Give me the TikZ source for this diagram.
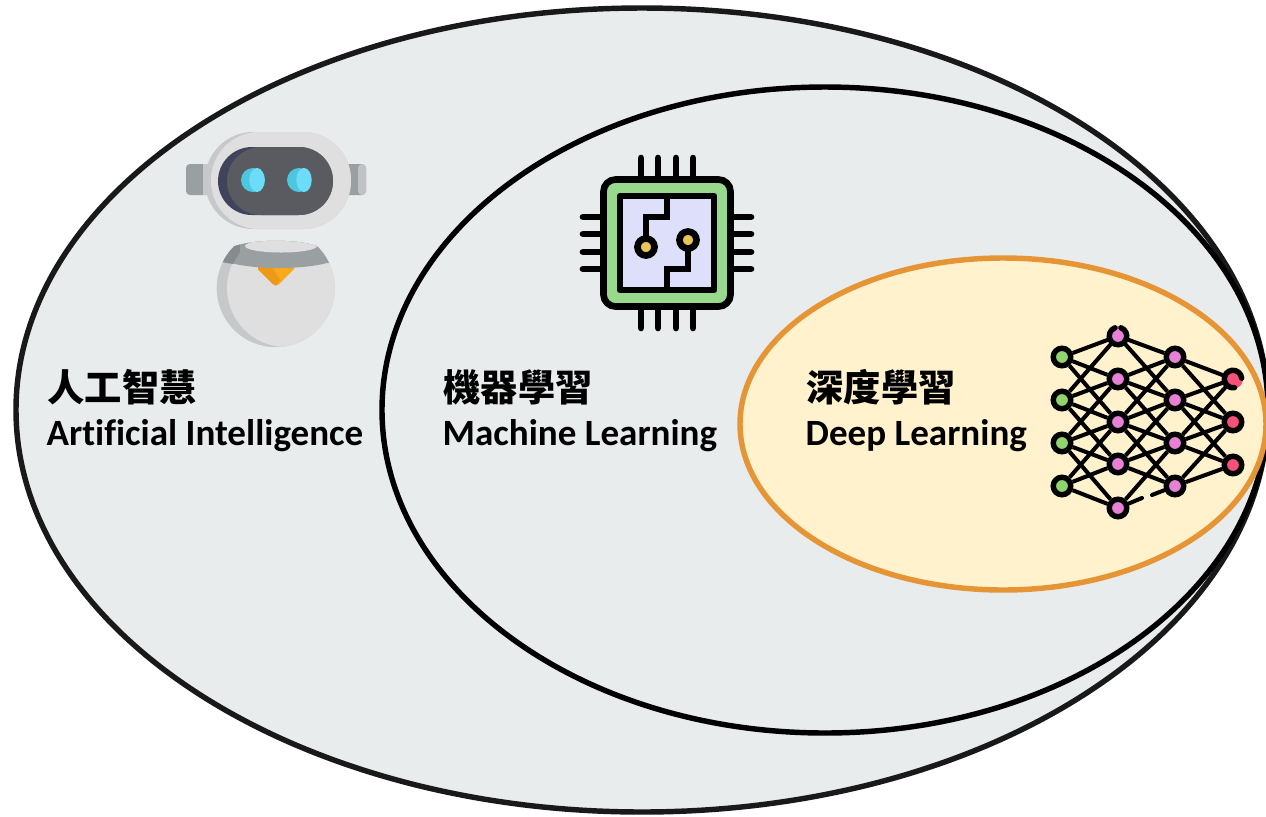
\documentclass[tikz,border=0pt]{standalone}
\usepackage{fontspec}
\setmainfont{Carlito}[Ligatures=NoCommon]
\newfontfamily\cjk{Noto Sans CJK TC}
\definecolor{setgray}{HTML}{E8ECED}
\definecolor{setyellow}{HTML}{FFF2CC}
\definecolor{setorange}{HTML}{E69536}
\definecolor{shell}{HTML}{DFDFDF}
\definecolor{shelldark}{HTML}{C6C8C9}
\definecolor{collar}{HTML}{9A9FA1}
\definecolor{collardark}{HTML}{878B8D}
\definecolor{screen}{HTML}{5A5B61}
\definecolor{screendark}{HTML}{41435D}
\definecolor{eye}{HTML}{6CDCF8}
\definecolor{eyedark}{HTML}{4FC6DF}
\definecolor{tie}{HTML}{F9A91C}
\definecolor{tiedark}{HTML}{EE9918}
\definecolor{chipgreen}{HTML}{98D98E}
\definecolor{chipblue}{HTML}{DEDFFB}
\definecolor{chipgold}{HTML}{E9C558}
\definecolor{ingreen}{HTML}{8FD46F}
\definecolor{hidpink}{HTML}{E681D6}
\definecolor{outred}{HTML}{F4527A}
\tikzset{
  setline/.style={line width=1.55pt},
  title/.style={anchor=west, inner sep=0pt, font=\cjk\bfseries\fontsize{10.6}{12}\selectfont},
  subtitle/.style={anchor=west, inner sep=0pt, font=\bfseries\fontsize{10.55}{12}\selectfont},
  chipline/.style={line width=1.9pt, line cap=round},
  unit/.style={circle, draw=black, line width=1.55pt, minimum size=.175cm, inner sep=0pt},
  bareunit/.style={circle, minimum size=.15cm, inner sep=0pt},
  link/.style={line width=1.15pt, black},
}
\begin{document}
\begin{tikzpicture}[]
\useasboundingbox (0, 0) rectangle (12.66, -8.16);
% the three sets
\draw[setline, fill=setgray, draw=black!90] (6.42, -4.10) ellipse (6.26 and 4.02);
\draw[setline, fill=setgray, draw=black] (8.25, -4.10) ellipse (4.43 and 3.23);
\draw[setline, fill=setyellow, draw=setorange] (10.03, -4.24) ellipse (2.63 and 1.66);
% labels
\node[title] (aitext) at (.47, -3.87) {人工智慧};
\node[subtitle] (aisub) at (.46, -4.36) {Artificial Intelligence};
\node[title] (mltext) at (4.43, -3.87) {機器學習};
\node[subtitle] (mlsub) at (4.42, -4.36) {Machine Learning};
\node[title] (dltext) at (8.06, -3.87) {深度學習};
\node[subtitle] (dlsub) at (8.05, -4.36) {Deep Learning};
% robot head
\fill[collar, rounded corners=.04cm] (1.86, -1.64) rectangle (2.20, -1.95);
\fill[shelldark] (2.03, -1.64) rectangle (2.20, -1.95);
\fill[collar, rounded corners=.04cm] (3.30, -1.64) rectangle (3.66, -1.95);
\fill[shelldark!85!collar, rounded corners=.04cm] (3.58, -1.64) rectangle (3.66, -1.95);
\fill[shelldark, rounded corners=.48cm] (2.05, -1.32) rectangle (3.51, -2.29);
\fill[shell, rounded corners=.48cm] (2.11, -1.32) rectangle (3.51, -2.29);
\fill[screendark, rounded corners=.34cm] (2.18, -1.47) rectangle (3.33, -2.15);
\fill[screen, rounded corners=.34cm] (2.27, -1.47) rectangle (3.33, -2.15);
\fill[eyedark] (2.53, -1.80) circle (.12) (2.99, -1.80) circle (.12);
\fill[eye] (2.57, -1.80) ellipse (.077 and .12) (3.04, -1.80) ellipse (.077 and .12);
% robot body
\begin{scope}
\clip (2.35, -2.46) .. controls (2.55, -2.39) and (2.97, -2.39) .. (3.17, -2.46)
  arc (45.6:-225.6:.59) -- cycle;
\fill[shelldark] (2.1, -2.3) rectangle (3.4, -3.5);
\fill[shell] (2.86, -2.88) circle (.59);
\fill[tie] (2.58, -2.6) -- (2.94, -2.6) -- (2.94, -2.69) -- (2.79, -2.84)
  .. controls (2.77, -2.86) and (2.75, -2.86) .. (2.73, -2.84) -- (2.58, -2.69) -- cycle;
\fill[tiedark] (2.58, -2.6) -- (2.68, -2.6) -- (2.80, -2.80) -- (2.76, -2.855) -- (2.73, -2.84) -- (2.58, -2.69) -- cycle;
\fill[collar] (2.1, -2.3) -- (3.4, -2.3) -- (3.4, -2.63) -- (3.27, -2.63)
  .. controls (3.0, -2.70) and (2.5, -2.70) .. (2.24, -2.61) -- (2.1, -2.6) -- cycle;
\fill[collardark] (2.1, -2.3) -- (2.40, -2.3) -- (2.40, -2.52) -- (2.33, -2.64) -- (2.1, -2.6) -- cycle;
\fill[shell] (2.81, -2.46) ellipse (.36 and .065);
\end{scope}
% chip
\foreach \pos in {6.41, 6.58, 6.76, 6.93} {
  \draw[chipline] (\pos, -1.58) -- (\pos, -1.78);
  \draw[chipline] (\pos, -3.08) -- (\pos, -3.28);
}
\foreach \pos in {-2.17, -2.34, -2.52, -2.69} {
  \draw[chipline] (5.83, \pos) -- (6.03, \pos);
  \draw[chipline] (7.31, \pos) -- (7.51, \pos);
}
\draw[chipline, fill=chipgreen, rounded corners=.12cm] (6.035, -1.795) rectangle (7.305, -3.065);
\draw[chipline, fill=chipblue, line join=round] (6.20, -1.96) rectangle (7.14, -2.90);
\draw[chipline, line cap=butt, line join=miter] (6.67, -1.96) -- (6.67, -2.17) -- (6.46, -2.17) -- (6.46, -2.47);
\draw[chipline, line cap=butt, line join=miter] (6.88, -2.40) -- (6.88, -2.69) -- (6.67, -2.69) -- (6.67, -2.90);
\draw[chipline, fill=chipgold] (6.46, -2.47) circle (.085) (6.88, -2.40) circle (.085);
% network
\foreach \name/\xpos/\ypos in {g1/10.62/-3.57, g2/10.62/-4.00, g3/10.62/-4.43, g4/10.62/-4.86}
  \node[unit, fill=ingreen] (\name) at (\xpos, \ypos) {};
\foreach \name/\xpos/\ypos in {p2/11.18/-3.79, p3/11.18/-4.22, p4/11.18/-4.64, p5/11.18/-5.08,
    a1/11.75/-3.57, a2/11.75/-4.00, a3/11.75/-4.43, a4/11.75/-4.86}
  \node[unit, fill=hidpink] (\name) at (\xpos, \ypos) {};
\foreach \name/\xpos/\ypos in {r2/12.33/-4.22, r3/12.33/-4.65}
  \node[unit, fill=outred] (\name) at (\xpos, \ypos) {};
\node[bareunit, fill=hidpink, minimum size=.2cm] (p1) at (11.18, -3.36) {};
\node[bareunit, fill=outred, minimum size=.2cm] (r1) at (12.33, -3.79) {};
\draw[line width=1.55pt, line cap=round] (p1) ++(70:.0875) arc (70:-250:.0875);
\draw[line width=1.55pt, line cap=round] (r1) ++(5:.0875) arc (5:280:.0875);
\foreach \from/\to in {g1/p1, g1/p2, g1/p3, g2/p1, g2/p2, g2/p3, g2/p4, g3/p2, g3/p3, g3/p4, g3/p5, g4/p3, g4/p4, g4/p5,
    a1/p1, a1/p2, a1/p3, a2/p1, a2/p2, a2/p3, a2/p4, a3/p2, a3/p3, a3/p4, a3/p5, a4/p3, a4/p4,
    a1/r1, a1/r2, a2/r1, a2/r2, a2/r3, a3/r1, a3/r2, a3/r3, a4/r2, a4/r3}
  \draw[link] (\from) -- (\to);
\coordinate (gapleft) at (11.42, -4.98);
\coordinate (gapright) at (11.52, -4.95);
\draw[link, line cap=round] (p5) -- (gapleft);
\draw[link, line cap=round] (a4) -- (gapright);
\end{tikzpicture}
\end{document}
